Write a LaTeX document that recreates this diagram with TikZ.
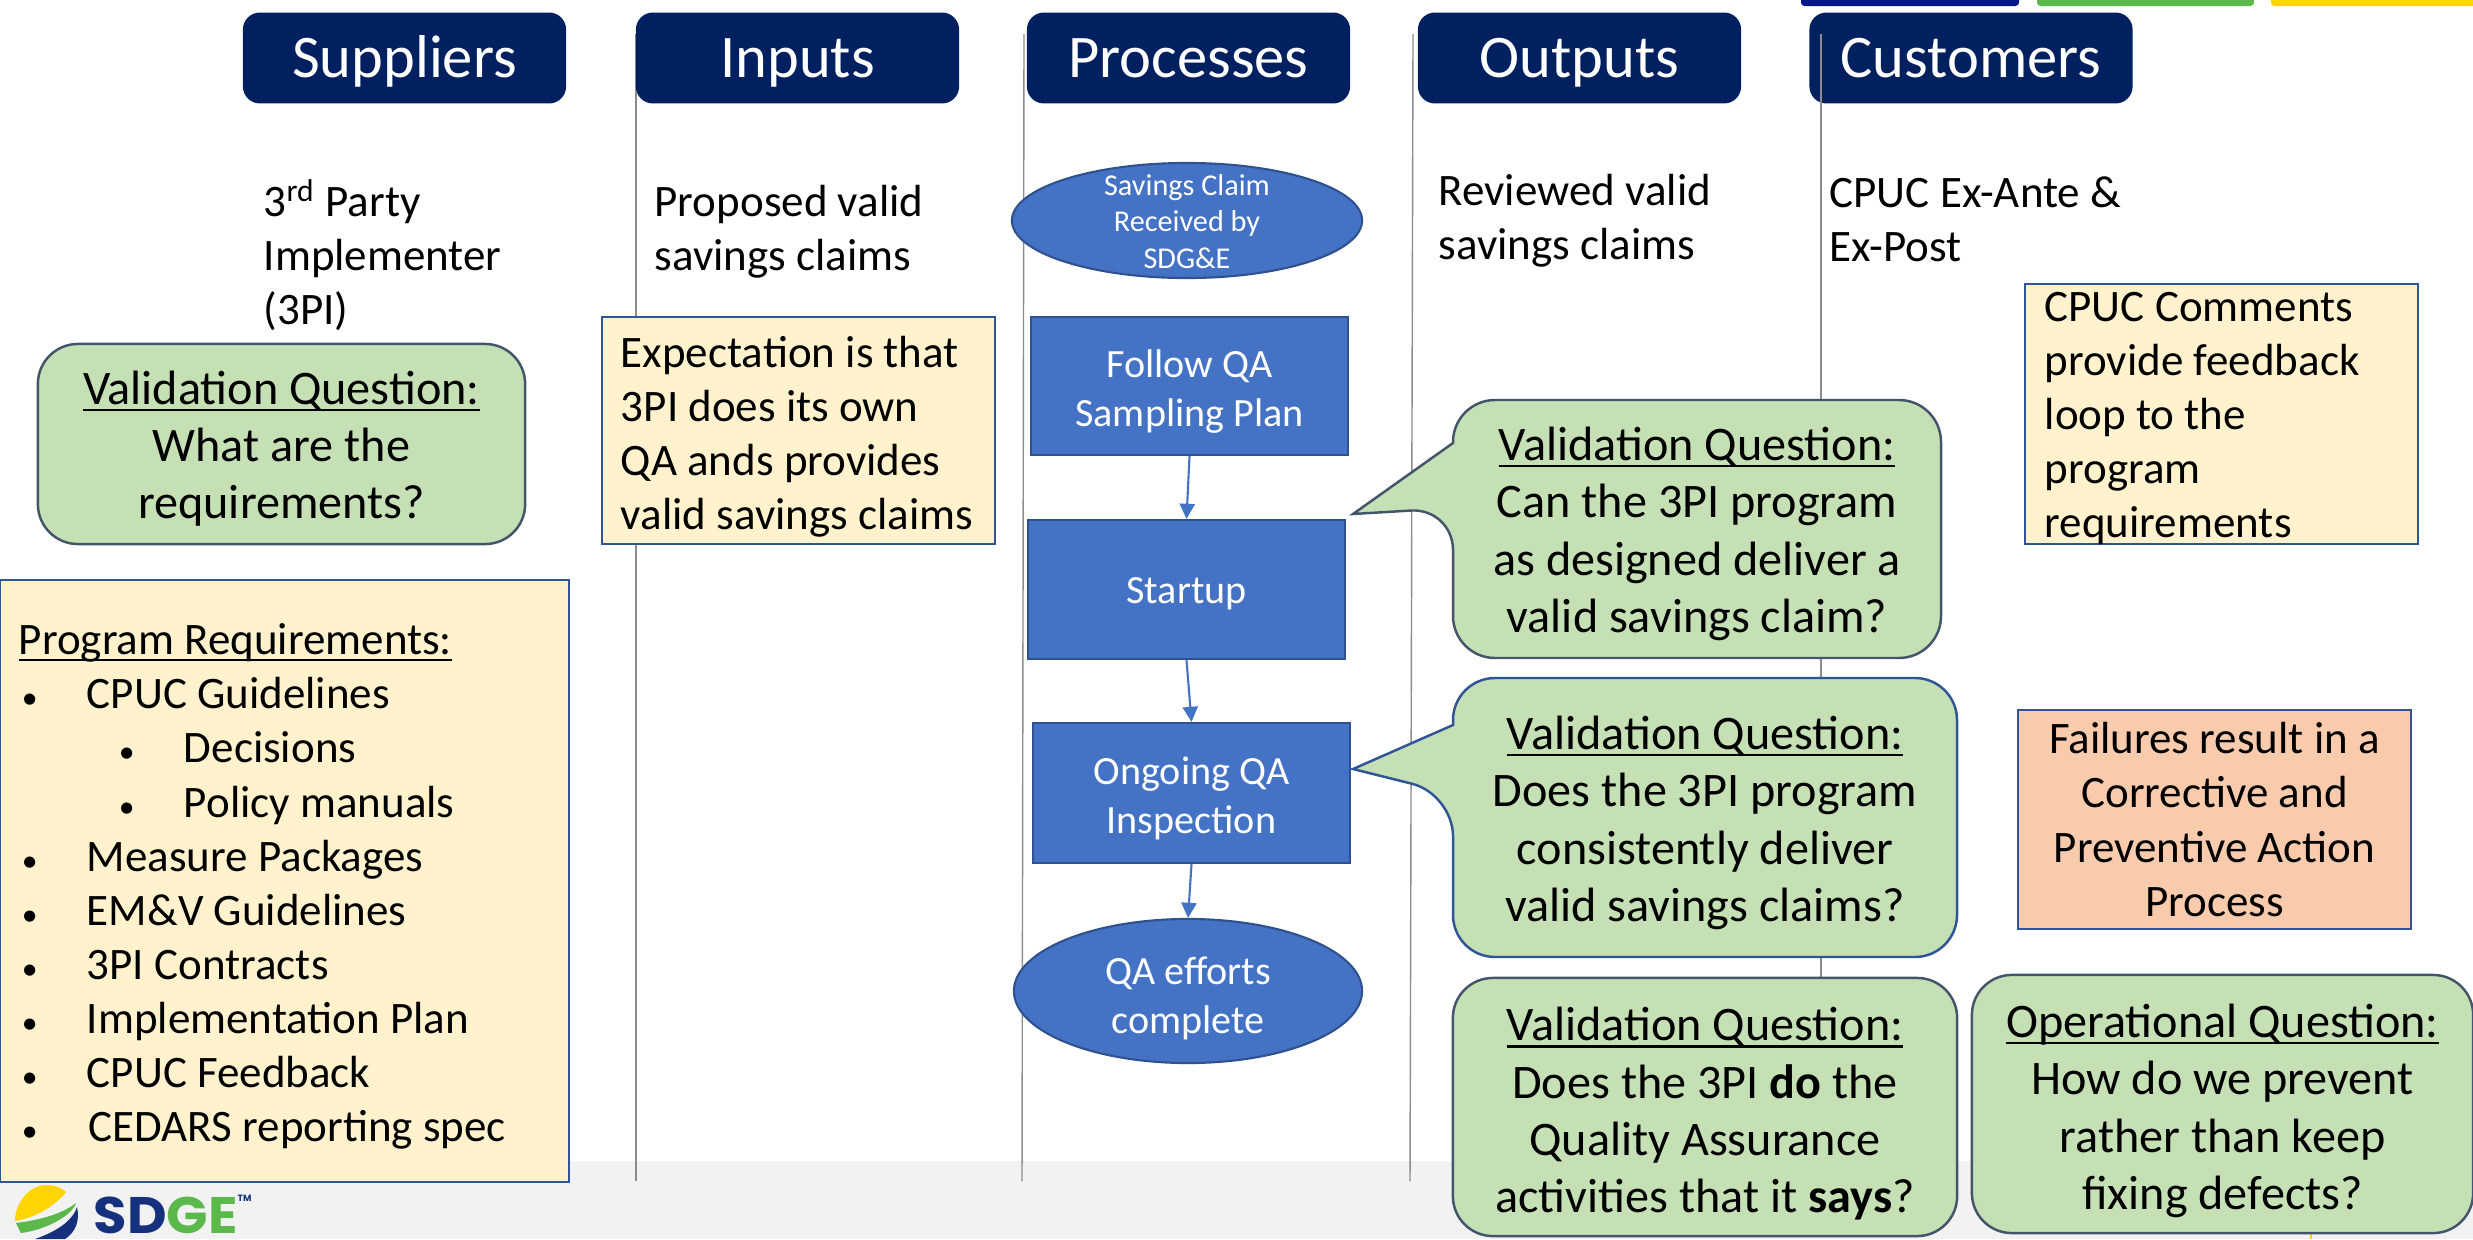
\documentclass[tikz,border=0pt]{standalone}
\usepackage{fontspec}
\setmainfont{Carlito}
\newfontfamily\logofont{Poppins}
\usetikzlibrary{arrows.meta,shapes.geometric}

\definecolor{headnavy}{HTML}{002060}
\definecolor{flowblue}{HTML}{4472C4}
\definecolor{flowedge}{HTML}{2F528F}
\definecolor{qgreen}{HTML}{C5E0B4}
\definecolor{qedge}{HTML}{44546A}
\definecolor{noteyellow}{HTML}{FFF2CC}
\definecolor{noteedge}{HTML}{2F5597}
\definecolor{notepeach}{HTML}{F8CBAD}
\definecolor{footgrey}{HTML}{F2F2F2}
\definecolor{laneline}{HTML}{8C8C8C}
\definecolor{barnavy}{HTML}{001689}
\definecolor{bargreen}{HTML}{5BB84A}
\definecolor{baryellow}{HTML}{FFD500}
\definecolor{logonavy}{HTML}{15317E}

\newcommand{\reqitem}[3]{\hspace*{#1}\makebox[#2][l]{\small\textbullet}#3\\}
\newcommand{\nudge}[1]{\rule{0pt}{#1}}
\newcommand{\headline}[1]{\setbox0\hbox{#1}\rlap{\rule[-1.9pt]{\wd0}{0.65pt}}\box0}

\tikzset{
  headbox/.style={fill=headnavy, rounded corners=0.17cm, minimum width=3.23cm, minimum height=0.9cm,
    text=white, text height=15.2pt, text depth=4pt, font=\fontsize{17.2}{20}\selectfont},
  plaintext/.style={anchor=west, align=left, inner sep=0pt, font=\fontsize{12.8}{15.4}\selectfont},
  flowbox/.style={draw=flowedge, fill=flowblue, line width=0.6pt, text=white, align=center, inner sep=0pt,
    font=\fontsize{11.4}{13.9}\selectfont},
  notebox/.style={draw=noteedge, fill=noteyellow, line width=0.6pt, align=flush left, inner sep=0pt,
    font=\fontsize{12.8}{15.4}\selectfont},
  qbox/.style={draw=qedge, fill=qgreen, line width=0.7pt, rounded corners=0.4cm, align=center, inner sep=0pt,
    font=\fontsize{13.7}{16.3}\selectfont},
  qtext/.style={align=center, inner sep=0pt, font=\fontsize{13.7}{16.3}\selectfont},
  flowarrow/.style={-{Triangle[length=4.3pt,width=4.3pt]}, flowblue, line width=0.6pt},
}

\begin{document}
\begin{tikzpicture}[x=0.01cm,y=-0.01cm]
\useasboundingbox (0,0) rectangle (2473,1239);

% footer band and top bars
\fill [footgrey] (0,1161) rectangle (2473,1239);
\fill [barnavy, rounded corners=1pt] (1801,-5) rectangle (2019,6);
\fill [bargreen, rounded corners=1pt] (2037,-5) rectangle (2254,6);
\fill [baryellow, rounded corners=1pt] (2271,-5) rectangle (2480,6);
\draw [baryellow, thin] (2311,1225)--(2311,1239);

% lane lines
\draw [laneline, thin] (636,34)--(636,1181);
\draw [laneline, thin] (1024,34)--(1022,1181);
\draw [laneline, thin] (1413,34)--(1410,1181);

% column heads
\node [headbox] (suppliers) at (404.5,58) {Suppliers};
\node [headbox] (inputs) at (797.5,58) {Inputs};
\node [headbox] (processes) at (1188.5,58) {Processes};
\node [headbox] (outputs) at (1579.5,58) {Outputs};
\node [headbox] (customers) at (1971,58) {Customers};
\draw [laneline, thin] (1821,34)--(1821,1100);

% texts under the heads
\node [plaintext] (supplier) at (263,255) {3\textsuperscript{rd} Party\\Implementer\\(3PI)};
\node [plaintext] (input) at (654,232) {Proposed valid\\savings claims};
\node [plaintext] (output) at (1438,221) {Reviewed valid\\savings claims};
\node [plaintext] (customer) at (1829,219) {CPUC Ex-Ante \&\\Ex-Post};

% flow
\node [flowbox, ellipse, minimum width=3.50cm, minimum height=1.15cm] (claim) at (1187,220.5) {};
\node [align=center, inner sep=0pt, text=white, font=\fontsize{8.6}{10.3}\selectfont] (claimtext) at (1187,221.5) {Savings Claim\\Received by\\SDG\&E};
\node [flowbox, minimum width=3.17cm, minimum height=1.38cm] (sampling) at (1189.5,386) {\nudge{11pt}Follow QA\\Sampling Plan};
\node [flowbox, minimum width=3.17cm, minimum height=1.39cm, text height=9.5pt, text depth=1.6pt] (startup) at (1186.5,589.5) {Startup};
\node [flowbox, minimum width=3.17cm, minimum height=1.40cm] (ongoing) at (1191.5,793) {\nudge{11pt}Ongoing QA\\Inspection};
\node [flowbox, ellipse, minimum width=3.48cm, minimum height=1.44cm] (complete) at (1188,991) {\nudge{12pt}QA efforts\\complete};
\draw [flowarrow] (sampling.south)--(startup.north);
\draw [flowarrow] (startup.south)--(ongoing.north);
\draw [flowarrow] (ongoing.south)--(complete.north);

% notes
\node [notebox, minimum width=3.93cm, minimum height=2.27cm, text width=3.55cm] (expect) at (798.5,430.5) {\nudge{12.5pt}Expectation is that\\3PI does its own\\QA ands provides\\valid savings claims};
\node [notebox, minimum width=3.93cm, minimum height=2.60cm] (feedback) at (2221.5,414) {};
\node [plaintext] (feedbacktext) at (2044,418.5) {CPUC Comments\\provide feedback\\loop to the\\program\\requirements};
\node [notebox, fill=notepeach, align=flush center, minimum width=3.93cm, minimum height=2.19cm, text width=3.7cm] (failures) at (2214.5,819.5) {Failures result in a\\Corrective and\\Preventive Action\\Process};

% program requirements
\node [notebox, minimum width=5.69cm, minimum height=6.02cm, text width=5.31cm] (reqs) at (284.5,881) {\nudge{12pt}\headline{Program Requirements:}\\
\reqitem{0.03cm}{0.65cm}{CPUC Guidelines}
\reqitem{1.0cm}{0.65cm}{Decisions}
\reqitem{1.0cm}{0.65cm}{Policy manuals}
\reqitem{0.03cm}{0.65cm}{Measure Packages}
\reqitem{0.03cm}{0.65cm}{EM\&V Guidelines}
\reqitem{0.03cm}{0.65cm}{3PI Contracts}
\reqitem{0.03cm}{0.65cm}{Implementation Plan}
\reqitem{0.03cm}{0.65cm}{CPUC Feedback}
\hspace*{0.03cm}\makebox[0.67cm][l]{\small\textbullet}CEDARS reporting spec};

% questions
\node [qbox, minimum width=4.87cm, minimum height=2.00cm] (qreq) at (281.5,444) {\nudge{12.2pt}\headline{Validation Question:}\\What are the\\requirements?};

\draw [qbox, rounded corners=0pt] (1453,443) {[rounded corners=0.42cm] |- (1941,400) |- (1453,658) -- (1453,508)} -- (1353,514) -- cycle;
\node [qtext] (qdesign) at (1697,534) {\headline{Validation Question:}\\Can the 3PI program\\as designed deliver a\\valid savings claim?};

\draw [qbox, rounded corners=0pt, draw=noteedge] (1453,725) {[rounded corners=0.42cm] |- (1957,678) |- (1453,957) -- (1453,794)} -- (1353,769) -- cycle;
\node [qtext] (qconsist) at (1705,823) {\headline{Validation Question:}\\Does the 3PI program\\consistently deliver\\valid savings claims?};

\node [qbox, minimum width=5.04cm, minimum height=2.58cm] (qdoes) at (1705,1107) {\nudge{13.5pt}\headline{Validation Question:}\\Does the 3PI \textbf{do} the\\Quality Assurance\\activities that it \textbf{says}?};
\node [qbox, minimum width=5.01cm, minimum height=2.58cm] (qprevent) at (2222.5,1104) {\nudge{13.5pt}\headline{Operational Question:}\\How do we prevent\\rather than keep\\fixing defects?};

% logo
\fill [baryellow] (15,1221) .. controls (15,1202) and (30,1185) .. (46,1185) .. controls (54,1185) and (61,1187) .. (66,1192) .. controls (55,1206) and (35,1218) .. (15,1221) -- cycle;
\fill [bargreen] (16,1223) .. controls (40,1220) and (62,1214) .. (76,1203) .. controls (72,1216) and (45,1230) .. (21,1233) -- cycle;
\fill [logonavy] (35,1239) .. controls (55,1232) and (72,1222) .. (77,1207) .. controls (80,1220) and (76,1232) .. (65,1239) -- cycle;
\node [inner sep=0pt, anchor=base west, font=\logofont\bfseries\fontsize{14.6}{16}\selectfont] (logo) at (93,1233) {\scalebox{1.06}[1]{\textcolor{logonavy}{SD}\textcolor{bargreen}{GE}}\smash{\raisebox{0.62em}{\textcolor{logonavy}{\fontsize{2.6}{3}\selectfont TM}}}};

\end{tikzpicture}
\end{document}
